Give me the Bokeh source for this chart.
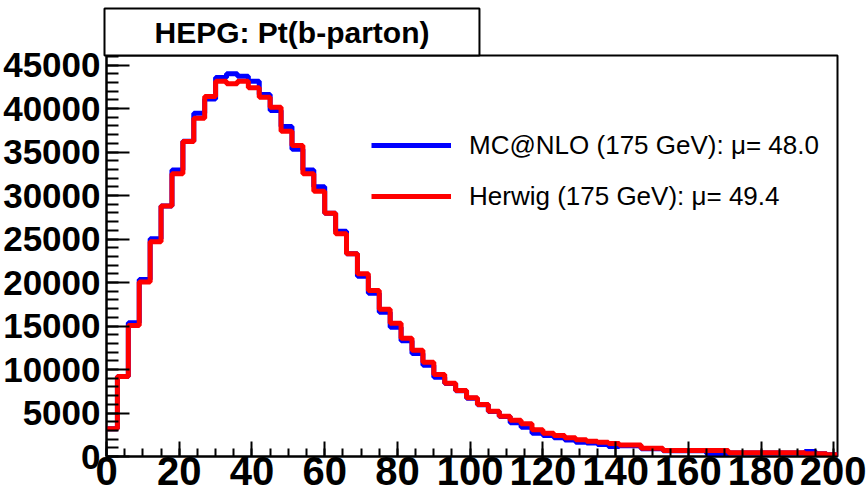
import numpy as np
from bokeh.plotting import figure
from bokeh.models import Range1d, SingleIntervalTicker, Legend, LegendItem, Title
from bokeh.embed import file_html
from bokeh.resources import INLINE

# histogram: 67 bins of width 3 GeV, low edges
bin_low = list(range(0, 201, 3))
bin_width = 3

mcnlo = [3200, 9200, 15370, 20350, 25020, 28800, 32950, 36250, 39460, 41110,
         43560, 43990, 43720, 43140, 41610, 39770, 37930, 35330, 32950, 31000,
         27970, 25900, 23300, 20720, 18770, 16590, 14870, 13300, 11840, 10500,
         9120, 8400, 7560, 6700, 5950, 5180, 4600, 3870, 3370, 2680,
         2410, 2150, 1910, 1650, 1550, 1380, 1150, 1250, 1250, 900,
         900, 650, 650, 650, 650, 310, 310, 400, 400, 400,
         400, 400, 400, 400, 575, 310, 195]

herwig = [3200, 9200, 15050, 20050, 24700, 28800, 32500, 36200, 38900, 41380,
          43140, 42840, 43140, 42380, 41300, 40150, 37400, 35750, 32500, 30500,
          27970, 25600, 23300, 21000, 19080, 16940, 15330, 13580, 12220, 10840,
          9430, 8430, 7590, 6750, 5980, 5210, 4640, 4180, 3760, 3070,
          2680, 2410, 2150, 1920, 1750, 1650, 1500, 1320, 1320, 960,
          960, 690, 690, 690, 690, 690, 690, 425, 425, 425,
          425, 425, 425, 425, 310, 310, 195]

title_text = "HEPG: Pt(b-parton)"
label_mcnlo = "MC@NLO (175 GeV): \u03bc= 48.0"
label_herwig = "Herwig (175 GeV): \u03bc= 49.4"

x_max = 201
y_max = 46100

edges = bin_low + [bin_low[-1] + bin_width]
y_blue = mcnlo + [mcnlo[-1]]
y_red = herwig + [herwig[-1]]

FONT = "Liberation Sans"

title = Title(text=title_text, align="left", offset=-2, standoff=0,
              vertical_align="bottom",
              text_font=FONT, text_font_style="bold", text_font_size="30px",
              text_color="black",
              background_fill_color="white", border_line_color="black",
              border_line_width=2, padding=(50, 7))

p = figure(width=866, height=501, output_backend="svg", toolbar_location=None,
           x_range=Range1d(0, x_max), y_range=Range1d(0, y_max),
           min_border_left=105, min_border_right=29, min_border_top=55,
           min_border_bottom=45, title=title)

r_blue = p.step(edges, y_blue, mode="after", line_color="#0000ff", line_width=5)
r_red = p.step(edges, y_red, mode="after", line_color="#ff0000", line_width=5)

p.xgrid.visible = False
p.ygrid.visible = False
p.outline_line_color = "black"
p.outline_line_width = 2
p.background_fill_color = "white"
p.border_fill_color = "white"

p.xaxis.ticker = SingleIntervalTicker(interval=20, num_minor_ticks=4)
p.yaxis.ticker = SingleIntervalTicker(interval=5000, num_minor_ticks=5)

for ax in list(p.xaxis) + list(p.yaxis):
    ax.major_tick_out = 0
    ax.minor_tick_out = 0
    ax.axis_line_width = 2
    ax.axis_line_color = "black"
    ax.major_tick_line_width = 2
    ax.minor_tick_line_width = 2
    ax.major_tick_line_color = "black"
    ax.minor_tick_line_color = "black"
    ax.major_label_text_font = FONT
    ax.major_label_text_font_style = "bold"
    ax.major_label_text_color = "black"

p.xaxis.major_tick_in = 15
p.xaxis.minor_tick_in = 8
p.xaxis.major_label_text_font_size = "40px"
p.xaxis.major_label_standoff = 0

p.yaxis.major_tick_in = 23
p.yaxis.minor_tick_in = 12
p.yaxis.major_label_text_font_size = "35px"
p.yaxis.major_label_standoff = 6

legend = Legend(items=[LegendItem(label=label_mcnlo, renderers=[r_blue]),
                       LegendItem(label=label_herwig, renderers=[r_red])],
                location=(265, 240), orientation="vertical",
                border_line_color=None, background_fill_alpha=0,
                padding=0, margin=0, spacing=11,
                glyph_width=80, glyph_height=40, label_height=40,
                label_standoff=18, label_text_font=FONT,
                label_text_font_size="26px", label_text_color="black")
p.add_layout(legend)

open("out.html", "w").write(file_html(p, INLINE))
